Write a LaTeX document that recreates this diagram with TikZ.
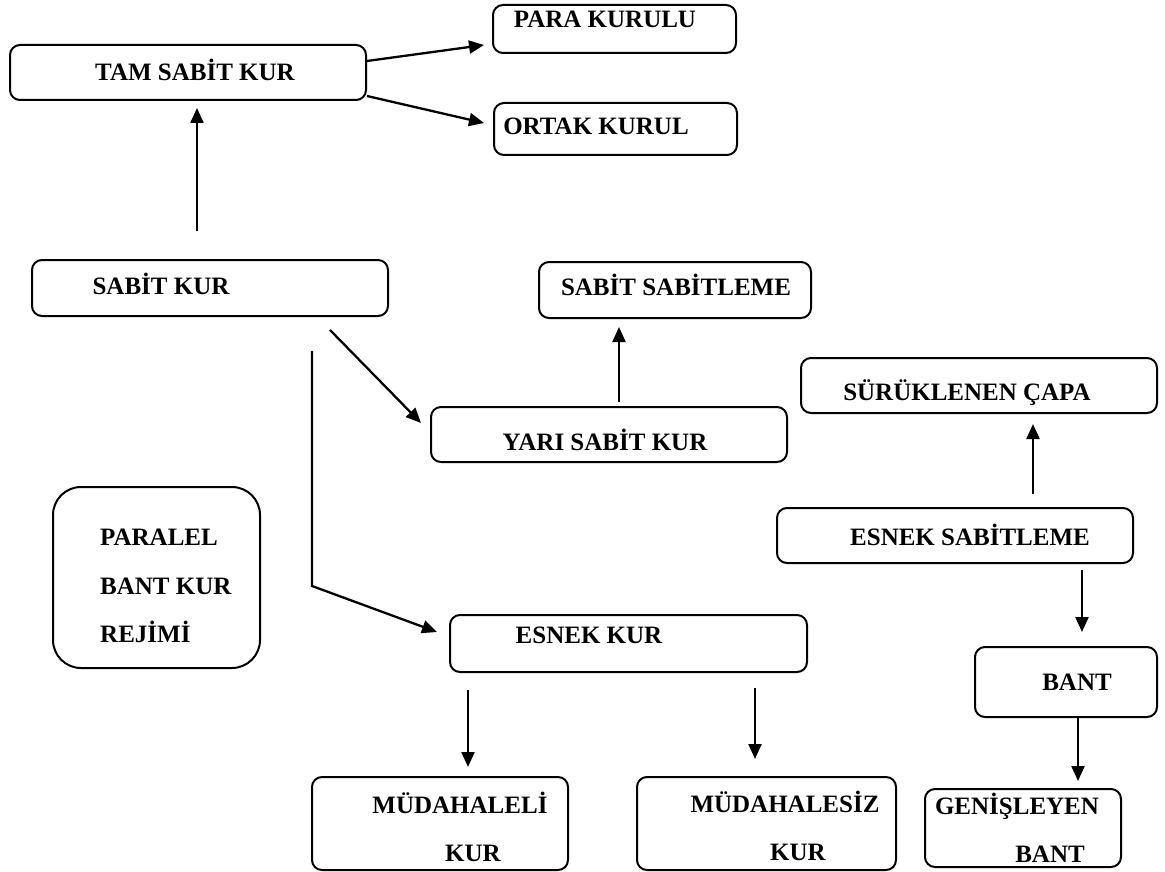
\documentclass[tikz,border=0pt]{standalone}
\usepackage{fontspec}
\setmainfont{Liberation Serif}
\usetikzlibrary{arrows.meta,calc}
\tikzset{
  box/.style={draw, line width=2pt, rounded corners=10pt, inner sep=0pt},
  bigbox/.style={draw, line width=2pt, rounded corners=28pt, inner sep=0pt},
  txt/.style={anchor=base, inner sep=0pt, font=\fontsize{25}{30}\selectfont\bfseries},
  txtl/.style={anchor=base west, inner sep=0pt, font=\fontsize{25}{30}\selectfont\bfseries},
  arr/.style={line width=2.3pt, -{Triangle[length=15pt,width=13pt]}},
  ln/.style={line width=2pt}
}
\begin{document}
\begin{tikzpicture}[x=1pt,y=-1pt]
\useasboundingbox (0,0) rectangle (1165,872);
% boxes
\node[box, minimum width=356pt, minimum height=55pt] (tam) at (188,72.5) {};
\node[box, minimum width=243pt, minimum height=48pt] (para) at (614.5,29) {};
\node[box, minimum width=243pt, minimum height=52pt] (ortak) at (615.5,129) {};
\node[box, minimum width=356pt, minimum height=56pt] (sabit) at (210,288) {};
\node[box, minimum width=272pt, minimum height=56pt] (sabsab) at (675,290) {};
\node[box, minimum width=356pt, minimum height=55pt] (yari) at (609,434.5) {};
\node[box, minimum width=356pt, minimum height=55pt] (surukl) at (979,385.5) {};
\node[box, minimum width=356pt, minimum height=55pt] (esnsab) at (955,535.5) {};
\node[box, minimum width=182pt, minimum height=70pt] (bant) at (1066,682) {};
\node[box, minimum width=196pt, minimum height=78pt] (genis) at (1023,828) {};
\node[bigbox, minimum width=207pt, minimum height=181pt] (paralel) at (156.5,577.5) {};
\node[box, minimum width=357pt, minimum height=57pt] (esnek) at (628.5,643.5) {};
\node[box, minimum width=256pt, minimum height=93pt] (mudl) at (440,823.5) {};
\node[box, minimum width=259pt, minimum height=93pt] (mudz) at (766.5,823.5) {};
% texts
\node[txt] (t1) at (195,81) {TAM SABİT KUR};
\node[txt] (t2) at (605,28) {PARA KURULU};
\node[txt] (t3) at (596,135) {ORTAK KURUL};
\node[txt] (t4) at (161,294) {SABİT KUR};
\node[txt] (t5) at (676,295) {SABİT SABİTLEME};
\node[txt] (t6) at (605,450) {YARI SABİT KUR};
\node[txt] (t7) at (967,400) {SÜRÜKLENEN ÇAPA};
\node[txt] (t8) at (970,545) {ESNEK SABİTLEME};
\node[txt] (t9) at (1077,690) {BANT};
\node[txt] (t10) at (1017,814) {GENİŞLEYEN};
\node[txt] (t11) at (1050,862) {BANT};
\node[txtl] (t12) at (100,545) {PARALEL};
\node[txtl] (t13) at (100,594) {BANT KUR};
\node[txtl] (t14) at (100,642) {REJİMİ};
\node[txt] (t15) at (589,643) {ESNEK KUR};
\node[txt] (t16) at (460,813) {MÜDAHALELİ};
\node[txt] (t17) at (473,861) {KUR};
\node[txt] (t18) at (785,812) {MÜDAHALESİZ};
\node[txt] (t19) at (798,860) {KUR};
% connectors
\draw[arr] ([xshift=-13pt,yshift=28pt]sabit.north) -- ([xshift=9pt,yshift=-7pt]tam.south);
\draw[arr] ([yshift=11.5pt]tam.east) -- ([xshift=-8pt,yshift=-16pt]para.west);
\draw[arr] ([yshift=-23.5pt]tam.east) -- ([xshift=-9pt,yshift=6pt]ortak.west);
\draw[arr] ([xshift=120pt,yshift=-13pt]sabit.south) -- ([xshift=-9pt,yshift=11.5pt]yari.west);
\draw[arr] ([xshift=102pt,yshift=-34pt]sabit.south) -- ++(0,235) -- ([xshift=-12pt,yshift=11.5pt]esnek.west);
\draw[arr] ([xshift=10pt,yshift=4pt]yari.north) -- ([xshift=-56pt,yshift=-8pt]sabsab.south);
\draw[arr] ([xshift=78pt,yshift=13pt]esnsab.north) -- ([xshift=54pt,yshift=-10pt]surukl.south);
\draw[arr] ([xshift=127pt,yshift=-6pt]esnsab.south) -- ([xshift=16pt,yshift=14pt]bant.north);
\draw[arr] ([xshift=12pt]bant.south) -- ([xshift=55pt,yshift=7pt]genis.north);
\draw[arr] ([xshift=-160.5pt,yshift=-17pt]esnek.south) -- ([xshift=28pt,yshift=9pt]mudl.north);
\draw[arr] ([xshift=126.5pt,yshift=-15pt]esnek.south) -- ([xshift=-11.5pt,yshift=17pt]mudz.north);
\end{tikzpicture}
\end{document}
